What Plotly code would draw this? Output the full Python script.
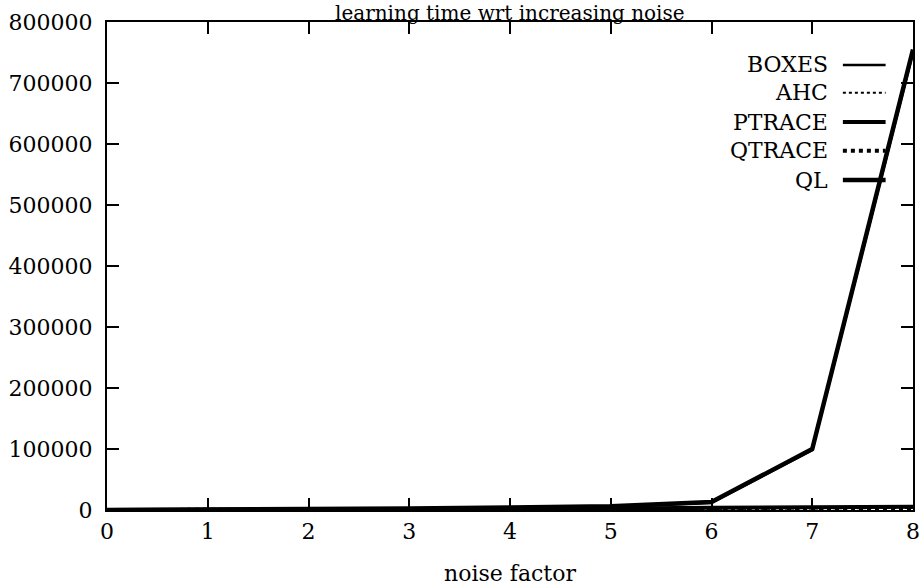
import plotly.graph_objects as go

noise = [0, 1, 2, 3, 4, 5, 6, 7, 8]
boxes = [0, 300, 1000, 2000, 3500, 5000, 12000, 98000, 750000]
ahc = [0, 100, 300, 500, 800, 1200, 1800, 2500, 3500]
ptrace = [0, 200, 500, 1000, 1500, 2500, 3500, 4500, 5500]
qtrace = [0, 100, 200, 400, 600, 1000, 1500, 2000, 3000]
ql = [0, 500, 1500, 2500, 4000, 6000, 13000, 100000, 755000]

names = ["BOXES", "AHC", "PTRACE", "QTRACE", "QL"]
series = [boxes, ahc, ptrace, qtrace, ql]
widths = [2.5, 2, 4, 4, 4.5]
dashes = ["solid", "dot", "solid", "dot", "solid"]

FONT = "DejaVu Serif"
FS = 22
fig = go.Figure()
for n, s, w, d in zip(names, series, widths, dashes):
    fig.add_trace(go.Scatter(x=noise, y=s, mode="lines", name=n,
                             line=dict(color="black", width=w, dash=d),
                             showlegend=False))

# manual gnuplot-style key: label then line sample
row_y = [0.912, 0.855, 0.795, 0.736, 0.676]
for n, w, d, yy in zip(names, widths, dashes, row_y):
    fig.add_annotation(xref="paper", yref="paper", x=0.897, y=yy, text=n,
                       showarrow=False, xanchor="right", yanchor="middle",
                       font=dict(family=FONT, size=FS, color="black"))
    fig.add_shape(type="line", xref="paper", yref="paper",
                  x0=0.913, x1=0.966, y0=yy, y1=yy,
                  line=dict(color="black", width=w, dash=d))

# title as an annotation so it sits just above the frame
fig.add_annotation(xref="paper", yref="paper", x=0.5, y=1 + 9 / 488,
                   text="learning time wrt increasing noise", showarrow=False,
                   xanchor="center", yanchor="middle", borderpad=0,
                   font=dict(family=FONT, size=20, color="black"))

axis_common = dict(showgrid=False, zeroline=False, showline=True,
                   linecolor="black", linewidth=2, mirror="allticks",
                   ticks="inside", ticklen=12, tickwidth=2, tickcolor="black",
                   automargin=False,
                   tickfont=dict(family=FONT, size=FS, color="black"))

fig.update_layout(
    width=922, height=586,
    margin=dict(l=107, r=9, t=22, b=76),
    paper_bgcolor="white", plot_bgcolor="white",
    xaxis=dict(range=[0, 8], dtick=1, ticklabelstandoff=1,
               title=dict(text="noise factor", standoff=24,
                          font=dict(family=FONT, size=FS, color="black")),
               **axis_common),
    yaxis=dict(range=[0, 800000], dtick=100000, tickformat="d",
               ticklabelstandoff=8, **axis_common),
)

fig.write_html("out.html", config={"displayModeBar": False},
               post_script="document.body.style.margin='0';document.body.style.overflow='hidden';")
